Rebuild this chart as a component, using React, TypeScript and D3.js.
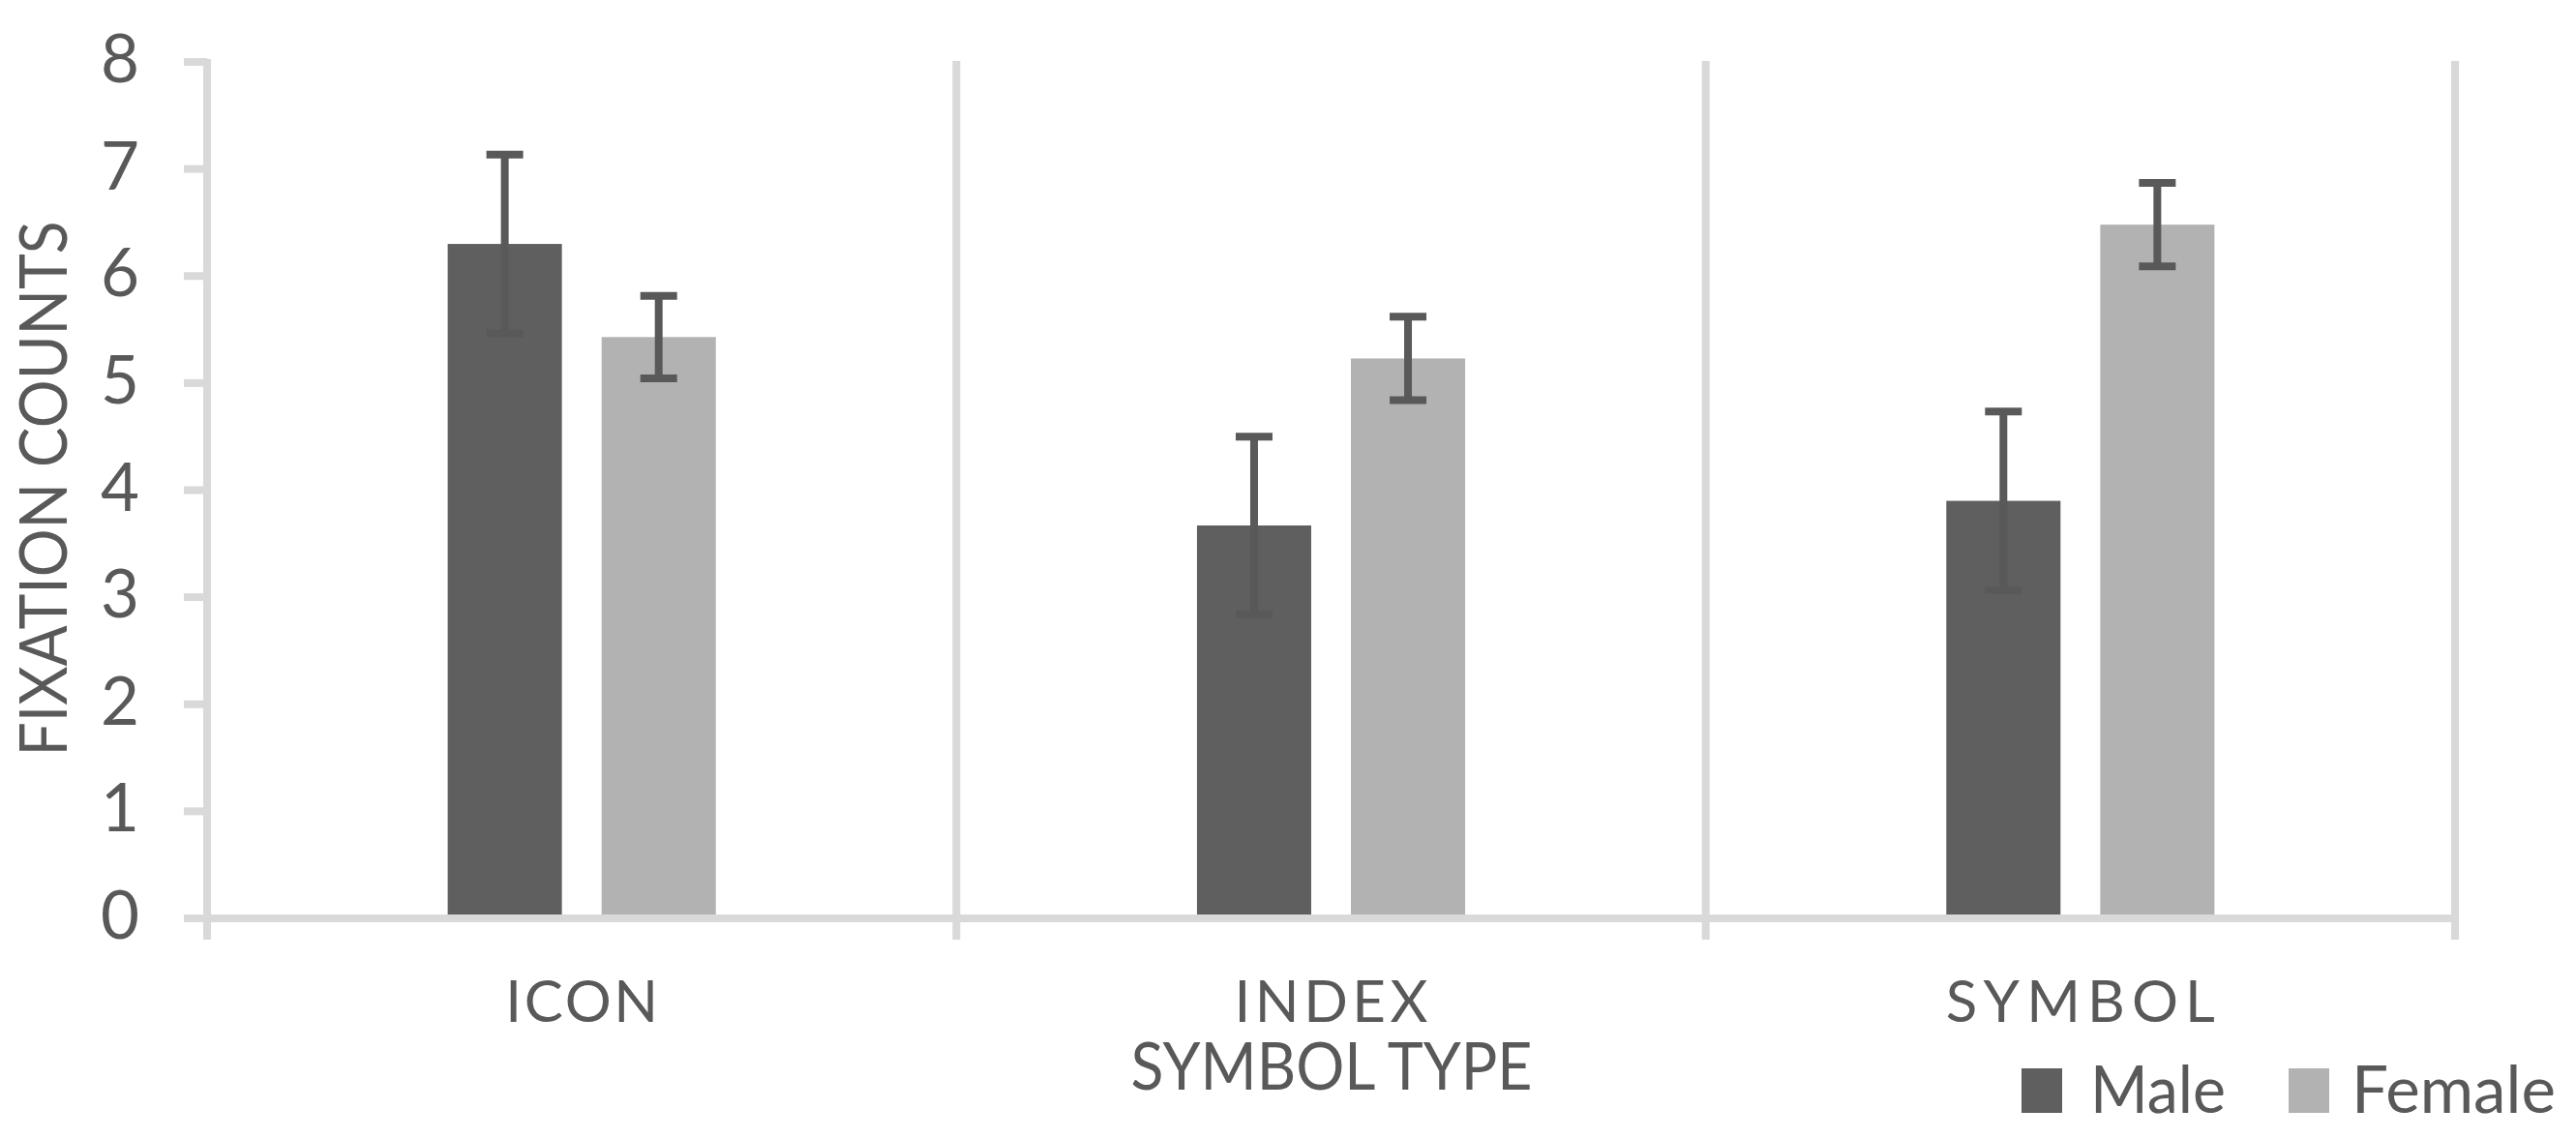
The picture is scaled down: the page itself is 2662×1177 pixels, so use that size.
import React from "react";
import * as d3 from "d3";

const categories = ["ICON", "INDEX", "SYMBOL"];
const seriesNames = ["Male", "Female"];
const maleValues = [6.3, 3.67, 3.9];
const femaleValues = [5.43, 5.23, 6.48];
const maleErrors = [0.835, 0.83, 0.835];
const femaleErrors = [0.385, 0.39, 0.39];
const yTicks = [0, 1, 2, 3, 4, 5, 6, 7, 8];
const yTitle = "FIXATION COUNTS";
const xTitle = "SYMBOL TYPE";

const W = 2662;
const H = 1177;
const TEXT = "#595959";
const GRID = "#d9d9d9";
const COLORS: Record<string, string> = { Male: "#5f5f5f", Female: "#b2b2b2" };
const FONT = "Lato, 'Open Sans', sans-serif";

const catLabelWidths: Record<string, number> = { ICON: 158, INDEX: 200, SYMBOL: 278 };

export default function App() {
  const x0 = d3.scaleBand<string>().domain(categories).range([214, 2537]).padding(0);
  const x1 = d3
    .scaleBand<string>()
    .domain(seriesNames)
    .range([0, x0.bandwidth()])
    .paddingInner(0.258)
    .paddingOuter(1.563);
  const y = d3.scaleLinear().domain([0, 8]).range([949, 64]);

  const data = seriesNames.map((s) => ({
    name: s,
    values: s === "Male" ? maleValues : femaleValues,
    errors: s === "Male" ? maleErrors : femaleErrors,
  }));

  const boundaries = [...categories.map((c) => x0(c) as number), x0.range()[1]];

  return (
    <svg
      width={W}
      height={H}
      viewBox={`0 0 ${W} ${H}`}
      style={{ position: "absolute", left: 0, top: 0, background: "#fff" }}
    >
      <rect x={0} y={0} width={W} height={H} fill="#fff" />
      {/* vertical gridlines at category boundaries */}
      {boundaries.map((bx, i) => (
        <line
          key={"g" + i}
          x1={bx}
          x2={bx}
          y1={i === 0 ? y(8) - 3 : y(8) - 1}
          y2={y(0) + 22}
          stroke={GRID}
          strokeWidth={8}
        />
      ))}
      {/* y ticks */}
      {yTicks.map((t) => (
        <line key={"t" + t} x1={190} x2={214} y1={y(t)} y2={y(t)} stroke={GRID} strokeWidth={8} />
      ))}
      {/* x axis */}
      <line x1={190} x2={boundaries[3] + 4} y1={y(0)} y2={y(0)} stroke={GRID} strokeWidth={8} />
      {/* bars */}
      {data.map((s) =>
        categories.map((c, i) => (
          <rect
            key={s.name + c}
            x={(x0(c) as number) + (x1(s.name) as number)}
            y={y(s.values[i])}
            width={x1.bandwidth()}
            height={y(0) - 4 - y(s.values[i])}
            fill={COLORS[s.name]}
          />
        ))
      )}
      {/* error bars */}
      {data.map((s) =>
        categories.map((c, i) => {
          const cx = (x0(c) as number) + (x1(s.name) as number) + x1.bandwidth() / 2;
          const top = y(s.values[i] + s.errors[i]);
          const bot = y(s.values[i] - s.errors[i]);
          return (
            <g key={"e" + s.name + c} stroke="#595959" strokeWidth={8}>
              <line x1={cx} x2={cx} y1={top} y2={bot} />
              <line x1={cx - 19} x2={cx + 19} y1={top} y2={top} />
              <line x1={cx - 19} x2={cx + 19} y1={bot} y2={bot} />
            </g>
          );
        })
      )}
      {/* y tick labels */}
      {yTicks.map((t) => (
        <text
          key={"l" + t}
          x={144}
          y={y(t) + 21}
          textAnchor="end"
          fontFamily={FONT}
          fontSize={69}
          fill={TEXT}
        >
          {t}
        </text>
      ))}
      {/* category labels */}
      {categories.map((c) => (
        <text
          key={"c" + c}
          x={(x0(c) as number) + x0.bandwidth() / 2}
          y={1056}
          textAnchor="middle"
          fontFamily={FONT}
          fontSize={60}
          fill={TEXT}
          textLength={catLabelWidths[c]}
          lengthAdjust="spacing"
        >
          {c}
        </text>
      ))}
      {/* x title */}
      <text
        x={1376}
        y={1126}
        textAnchor="middle"
        fontFamily={FONT}
        fontSize={67}
        fill={TEXT}
        textLength={415}
        lengthAdjust="spacingAndGlyphs"
      >
        {xTitle}
      </text>
      {/* y title */}
      <text
        transform={`translate(69, 505) rotate(-90)`}
        textAnchor="middle"
        fontFamily={FONT}
        fontSize={67}
        fill={TEXT}
        textLength={553}
        lengthAdjust="spacingAndGlyphs"
      >
        {yTitle}
      </text>
      {/* legend */}
      {[
        { name: "Male", sx: 2089, tx: 2160, tw: 140 },
        { name: "Female", sx: 2365, tx: 2430, tw: 211 },
      ].map((l) => (
        <g key={"lg" + l.name}>
          <rect x={l.sx} y={1104} width={42} height={46} fill={COLORS[l.name]} />
          <text
            x={l.tx}
            y={1150}
            fontFamily={FONT}
            fontSize={67}
            fill={TEXT}
            textLength={l.tw}
            lengthAdjust="spacingAndGlyphs"
          >
            {l.name}
          </text>
        </g>
      ))}
    </svg>
  );
}
